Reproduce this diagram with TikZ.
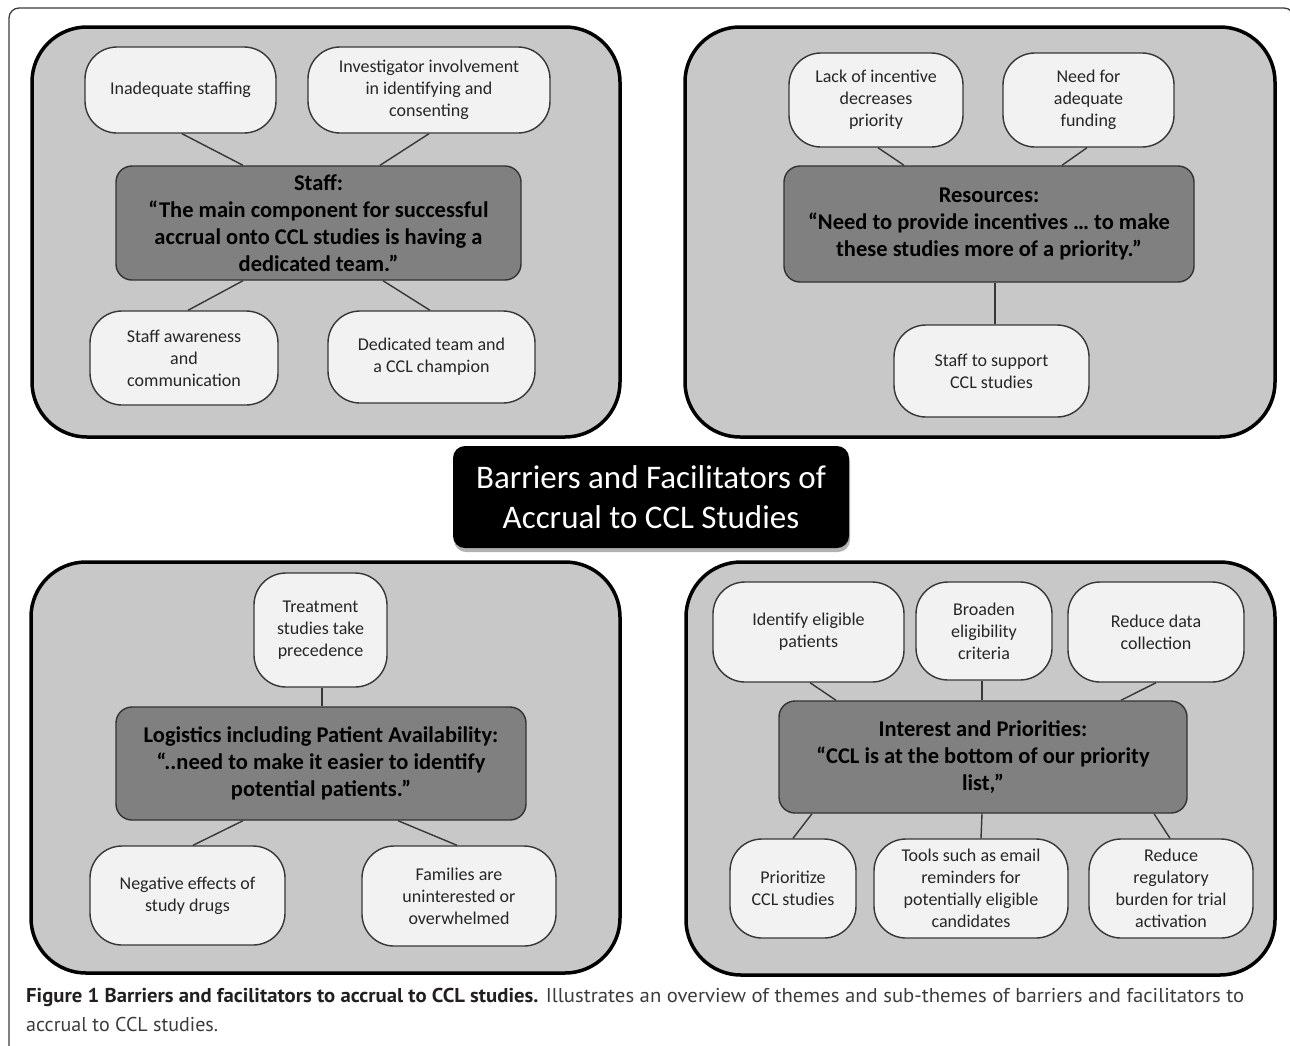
\documentclass[tikz,border=0pt]{standalone}
\usepackage{fontspec}
\usepackage{graphicx}
\setmainfont{Carlito}
\newfontfamily\capfont{PT Sans}
\usetikzlibrary{shadows,calc}
\definecolor{panelgray}{RGB}{200,200,200}
\definecolor{subfill}{RGB}{242,242,242}
\definecolor{subline}{RGB}{55,55,55}
\definecolor{themefill}{RGB}{128,128,128}
\definecolor{themeline}{RGB}{50,50,50}
\definecolor{frameline}{RGB}{60,60,60}
\definecolor{capbold}{RGB}{35,31,32}
\definecolor{capreg}{RGB}{60,60,60}
\begin{document}
\begin{tikzpicture}[x=1pt,y=-1pt,
  panel/.style={draw=black, line width=3.5pt, fill=panelgray, rounded corners=55pt, inner sep=0pt},
  sub/.style={draw=subline, line width=1.4pt, fill=subfill, rounded corners=32pt, align=center,
    inner sep=0pt, text=black!85, font=\fontsize{18}{22}\selectfont},
  theme/.style={draw=themeline, line width=1.4pt, fill=themefill, rounded corners=16pt, align=center,
    inner sep=0pt, text=black, font=\fontsize{22.5}{27}\selectfont\bfseries},
  conn/.style={draw=subline, line width=1.4pt},
  titlebox/.style={fill=black, rounded corners=12pt, align=center, text=white, inner sep=0pt,
    font=\fontsize{33}{40}\selectfont,
    drop shadow={shadow xshift=1pt, shadow yshift=-4pt, opacity=0.3, fill=black}},
]
\useasboundingbox (0,0) rectangle (1290,1045);
% outer frame
\draw[frameline, line width=1.3pt, rounded corners=10pt] (9,1060) -- (9,8) -- (1294,8) -- (1294,1060);

% panels
\node[panel, minimum width=588, minimum height=410] (pA) at (326,232) {};
\node[panel, minimum width=590, minimum height=410] (pB) at (980,232) {};
\node[panel, minimum width=589, minimum height=411] (pC) at (325.5,767.5) {};
\node[panel, minimum width=589, minimum height=413] (pD) at (980.5,768.5) {};

% title
\node[titlebox, minimum width=396, minimum height=102] (title) at (651,497)
  {Barriers and Facilitators of\\Accrual to CCL Studies};

% ---- Staff
\node[theme, minimum width=405, minimum height=114] (tA) at (318.5,223)
  {Staff:\\“The main component for successful\\accrual onto CCL studies is having a\\dedicated team.”};
\node[sub, minimum width=191, minimum height=86] (a1) at (180.5,90) {Inadequate staffing};
\node[sub, minimum width=242, minimum height=86] (a2) at (429,90) {Investigator involvement\\in identifying and\\consenting};
\node[sub, minimum width=188, minimum height=94] (a3) at (184,358) {Staff awareness\\and\\communication};
\node[sub, minimum width=207, minimum height=92] (a4) at (431.5,357) {Dedicated team and\\a CCL champion};
\draw[conn] ([xshift=1.5]a1.south) -- ([xshift=-75.5]tA.north);
\draw[conn] (a2.south) -- ([xshift=61.5]tA.north);
\draw[conn] ([xshift=-75.5]tA.south) -- ([xshift=4]a3.north);
\draw[conn] ([xshift=64.5]tA.south) -- ([xshift=-1.5]a4.north);

% ---- Resources
\node[theme, minimum width=410, minimum height=116] (tB) at (989,224)
  {Resources:\\“Need to provide incentives … to make\\these studies more of a priority.”};
\node[sub, minimum width=174, minimum height=94] (b1) at (876,100) {Lack of incentive\\decreases\\priority};
\node[sub, minimum width=171, minimum height=94] (b2) at (1088.5,100) {Need for\\adequate\\funding};
\node[sub, minimum width=195, minimum height=92] (b3) at (991.5,371) {Staff to support\\CCL studies};
\draw[conn] ([xshift=2]b1.south) -- ([xshift=-85]tB.north);
\draw[conn] ([xshift=-1.5]b2.south) -- ([xshift=73]tB.north);
\draw[conn] ([xshift=6]tB.south) -- ([xshift=3.5]b3.north);

% ---- Logistics
\node[theme, minimum width=410, minimum height=113] (tC) at (321,763.5)
  {Logistics including Patient Availability:\\“..need to make it easier to identify\\potential patients.”};
\node[sub, minimum width=133, minimum height=114] (c1) at (320.5,630) {Treatment\\studies take\\precedence};
\node[sub, minimum width=195, minimum height=99] (c2) at (187.5,895.5) {Negative effects of\\study drugs};
\node[sub, minimum width=194, minimum height=100] (c3) at (459,896) {Families are\\uninterested or\\overwhelmed};
\draw[conn] ([xshift=1.5]c1.south) -- ([xshift=1]tC.north);
\draw[conn] ([xshift=-78]tC.south) -- ([xshift=5.5]c2.north);
\draw[conn] ([xshift=77]tC.south) -- ([xshift=-2]c3.north);

% ---- Interest and priorities
\node[theme, minimum width=408, minimum height=112] (tD) at (983,757)
  {Interest and Priorities:\\“CCL is at the bottom of our priority\\list,”};
\node[sub, minimum width=191, minimum height=100] (d1) at (808.5,632) {Identify eligible\\patients};
\node[sub, minimum width=136, minimum height=98] (d2) at (984,631) {Broaden\\eligibility\\criteria};
\node[sub, minimum width=176, minimum height=100] (d3) at (1156,632) {Reduce data\\collection};
\node[sub, minimum width=126, minimum height=99] (d4) at (793,888.5) {Prioritize\\CCL studies};
\node[sub, minimum width=194, minimum height=99] (d5) at (971,888.5) {Tools such as email\\reminders for\\potentially eligible\\candidates};
\node[sub, minimum width=164, minimum height=99] (d6) at (1171,888.5) {Reduce\\regulatory\\burden for trial\\activation};
\draw[conn] ([xshift=1.5]d1.south) -- ([xshift=-147]tD.north);
\draw[conn] ([xshift=-2]d2.south) -- ([xshift=-1]tD.north);
\draw[conn] (d3.south) -- ([xshift=138]tD.north);
\draw[conn] ([xshift=-171]tD.south) -- (d4.north);
\draw[conn] ([xshift=-1]tD.south) -- ([xshift=10]d5.north);
\draw[conn] ([xshift=171]tD.south) -- ([xshift=-1]d6.north);

% caption
\node[anchor=base west, inner sep=0pt, font=\capfont\fontsize{20}{24}\selectfont] (cap1) at (26,1002)
  {\resizebox{1218pt}{\height}{\textcolor{capbold}{\bfseries Figure 1 Barriers and facilitators to accrual to CCL studies.} \textcolor{capreg}{Illustrates an overview of themes and sub-themes of barriers and facilitators to}}};
\node[anchor=base west, inner sep=0pt, font=\capfont\fontsize{20}{24}\selectfont] (cap2) at (26,1031)
  {\resizebox{192pt}{\height}{\textcolor{capreg}{accrual to CCL studies.}}};
\end{tikzpicture}
\end{document}
